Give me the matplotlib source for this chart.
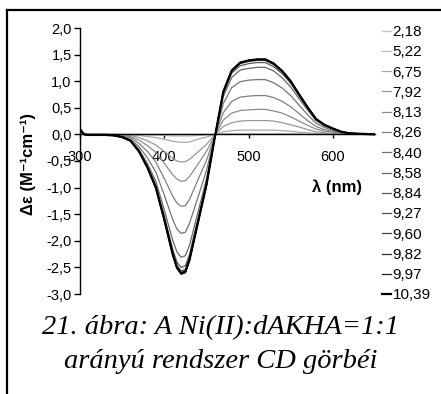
import matplotlib
matplotlib.use('Agg')
import matplotlib.pyplot as plt

plt.rcParams['font.family'] = ['Liberation Sans', 'DejaVu Sans']

wavelength = [300, 305, 310, 320, 330, 340, 350, 360, 370, 380, 390, 400, 410, 415, 420,
              425, 430, 440, 450, 460, 470, 480, 490, 500, 510, 520, 530, 540, 550, 560,
              570, 580, 590, 600, 610, 620, 635, 650]

ph_labels = ['2,18', '5,22', '6,75', '7,92', '8,13', '8,26', '8,40',
             '8,58', '8,84', '9,27', '9,60', '9,82', '9,97', '10,39']

# delta epsilon for each pH
cd_218 = [0.08, 0, 0, 0, 0, 0, 0, 0, 0, 0, 0, 0, 0, 0, 0,
          0, 0, 0, 0, 0, 0, 0, 0, 0, 0, 0, 0, 0, 0, 0,
          0, 0, 0, 0, 0, 0, 0, 0]
cd_522 = [0.08, 0, 0, 0, 0, 0, 0, 0, 0, -0.01, -0.01, -0.02, -0.03, -0.03, -0.03,
          -0.03, -0.03, -0.02, -0.01, 0, 0.01, 0.01, 0.01, 0.01, 0.01, 0.01, 0.01, 0.01, 0.01, 0.01,
          0, 0, 0, 0, 0, 0, 0, 0]
cd_675 = [0.08, 0, 0, 0, 0, 0, 0, -0.01, -0.02, -0.04, -0.06, -0.09, -0.13, -0.14, -0.15,
          -0.15, -0.14, -0.09, -0.05, 0, 0.05, 0.07, 0.08, 0.08, 0.08, 0.08, 0.08, 0.07, 0.06, 0.04,
          0.03, 0.02, 0.01, 0.01, 0, 0, 0, 0]
cd_792 = [0.08, 0, 0, 0, 0, 0, -0.01, -0.02, -0.06, -0.12, -0.20, -0.32, -0.45, -0.50, -0.52,
          -0.51, -0.47, -0.33, -0.19, -0.01, 0.15, 0.22, 0.25, 0.26, 0.26, 0.26, 0.25, 0.22, 0.18, 0.14,
          0.09, 0.05, 0.03, 0.02, 0.01, 0, 0, 0]
cd_813 = [0.08, 0, 0, 0, 0, -0.01, -0.02, -0.04, -0.11, -0.21, -0.34, -0.54, -0.76, -0.84, -0.88,
          -0.87, -0.79, -0.56, -0.32, -0.02, 0.27, 0.40, 0.45, 0.46, 0.47, 0.47, 0.44, 0.40, 0.33, 0.25,
          0.17, 0.10, 0.06, 0.04, 0.02, 0.01, 0, 0]
cd_826 = [0.08, 0, -0.01, -0.01, -0.01, -0.01, -0.03, -0.06, -0.17, -0.32, -0.52, -0.83, -1.16, -1.29, -1.35,
          -1.34, -1.22, -0.85, -0.49, -0.03, 0.41, 0.62, 0.70, 0.72, 0.73, 0.73, 0.69, 0.62, 0.52, 0.39,
          0.26, 0.15, 0.09, 0.06, 0.03, 0.01, 0.01, 0]
cd_840 = [0.08, 0, -0.01, -0.01, -0.01, -0.01, -0.04, -0.09, -0.23, -0.44, -0.71, -1.14, -1.60, -1.78, -1.86,
          -1.84, -1.67, -1.18, -0.68, -0.04, 0.58, 0.88, 0.99, 1.02, 1.03, 1.03, 0.97, 0.87, 0.73, 0.55,
          0.37, 0.21, 0.13, 0.08, 0.04, 0.01, 0.01, 0]
cd_858 = [0.08, 0, -0.01, -0.01, -0.01, -0.02, -0.04, -0.11, -0.28, -0.55, -0.88, -1.42, -1.99, -2.21, -2.31,
          -2.28, -2.08, -1.46, -0.84, -0.04, 0.71, 1.07, 1.21, 1.24, 1.26, 1.26, 1.19, 1.06, 0.89, 0.67,
          0.46, 0.26, 0.16, 0.10, 0.04, 0.02, 0.01, 0]
cd_884 = [0.08, 0, -0.01, -0.01, -0.01, -0.02, -0.05, -0.12, -0.31, -0.60, -0.96, -1.53, -2.16, -2.40, -2.50,
          -2.47, -2.25, -1.58, -0.91, -0.05, 0.77, 1.15, 1.29, 1.33, 1.35, 1.35, 1.27, 1.14, 0.96, 0.72,
          0.49, 0.28, 0.17, 0.11, 0.05, 0.02, 0.01, 0]
cd_927 = [0.08, 0, -0.01, -0.01, -0.01, -0.02, -0.05, -0.12, -0.32, -0.61, -0.98, -1.58, -2.22, -2.46, -2.57,
          -2.54, -2.31, -1.62, -0.94, -0.05, 0.79, 1.18, 1.33, 1.37, 1.39, 1.39, 1.31, 1.17, 0.99, 0.74,
          0.50, 0.29, 0.18, 0.11, 0.05, 0.02, 0.01, 0]
cd_960 = [0.08, 0, -0.01, -0.01, -0.01, -0.02, -0.05, -0.12, -0.32, -0.62, -1.00, -1.59, -2.24, -2.49, -2.60,
          -2.57, -2.34, -1.64, -0.95, -0.05, 0.79, 1.19, 1.34, 1.38, 1.40, 1.40, 1.32, 1.18, 0.99, 0.74,
          0.51, 0.29, 0.18, 0.11, 0.05, 0.02, 0.01, 0]
cd_982 = [0.08, 0, -0.01, -0.01, -0.01, -0.02, -0.05, -0.12, -0.32, -0.62, -1.00, -1.61, -2.26, -2.51, -2.62,
          -2.59, -2.36, -1.66, -0.95, -0.05, 0.80, 1.20, 1.35, 1.39, 1.41, 1.41, 1.33, 1.19, 1.00, 0.75,
          0.51, 0.29, 0.18, 0.11, 0.05, 0.02, 0.01, 0]
cd_997 = [0.08, 0, -0.01, -0.01, -0.01, -0.02, -0.05, -0.12, -0.32, -0.63, -1.01, -1.61, -2.27, -2.52, -2.63,
          -2.60, -2.37, -1.66, -0.96, -0.05, 0.80, 1.20, 1.35, 1.39, 1.41, 1.41, 1.33, 1.19, 1.00, 0.75,
          0.51, 0.29, 0.18, 0.11, 0.05, 0.02, 0.01, 0]
cd_1039 = [0.10, 0, -0.01, -0.01, -0.01, -0.02, -0.05, -0.12, -0.32, -0.62, -1.00, -1.60, -2.25, -2.50, -2.61,
           -2.58, -2.35, -1.65, -0.95, -0.05, 0.80, 1.20, 1.35, 1.39, 1.41, 1.41, 1.33, 1.19, 1.00, 0.75,
           0.51, 0.29, 0.18, 0.11, 0.05, 0.02, 0.01, 0]

curves = [cd_218, cd_522, cd_675, cd_792, cd_813, cd_826, cd_840,
          cd_858, cd_884, cd_927, cd_960, cd_982, cd_997, cd_1039]

y_ticks = [2.0, 1.5, 1.0, 0.5, 0.0, -0.5, -1.0, -1.5, -2.0, -2.5, -3.0]
y_ticklabels = ['2,0', '1,5', '1,0', '0,5', '0,0', '-0,5', '-1,0', '-1,5', '-2,0', '-2,5', '-3,0']
x_ticks = [300, 400, 500, 600]

# gray shades from light to black
grays = ['#c4c4c4', '#b8b8b8', '#a8a8a8', '#989898', '#8c8c8c', '#808080', '#747474',
         '#686868', '#5c5c5c', '#505050', '#404040', '#303030', '#202020', '#000000']

fig = plt.figure(figsize=(4.41, 3.94), dpi=100)
ax = fig.add_axes([80 / 441, 100 / 394, 295 / 441, 266 / 394])

for i, (lab, vals) in enumerate(zip(ph_labels, curves)):
    lw = 1.6 if i == len(curves) - 1 else 0.9
    ax.plot(wavelength, vals, color=grays[i], lw=lw, label=lab)

ax.set_xlim(300, 650)
ax.set_ylim(-3.0, 2.0)
ax.spines['top'].set_visible(False)
ax.spines['right'].set_visible(False)
ax.spines['bottom'].set_position(('data', 0))
ax.spines['left'].set_linewidth(1.0)
ax.spines['bottom'].set_linewidth(1.0)

ax.set_yticks(y_ticks)
ax.set_yticklabels(y_ticklabels)
ax.set_xticks(x_ticks)
ax.set_xticklabels([str(x) for x in x_ticks])
ax.tick_params(axis='y', direction='out', length=4, width=1, pad=2, labelsize=10.5)
ax.tick_params(axis='x', direction='out', length=3, width=1, pad=8, labelsize=10.5)

ax.set_ylabel('Δε (M⁻¹cm⁻¹)', fontsize=12, fontweight='bold')
ax.yaxis.set_label_coords(-0.15, 0.49)
ax.text(0.871, 0.40, 'λ (nm)', transform=ax.transAxes, fontsize=12,
        fontweight='bold', ha='center', va='center')

ax.legend(loc='upper left', bbox_to_anchor=(382 / 441, 1 - 25 / 394),
          bbox_transform=fig.transFigure, frameon=False, fontsize=11,
          handlelength=0.6, handletextpad=0.1, labelspacing=0.41,
          borderpad=0, borderaxespad=0)

# caption
fig.text(0.5, 1 - 328 / 394, '21. ábra: A Ni(II):dAKHA=1:1', ha='center', va='center',
         fontsize=20.5, style='italic', family='Liberation Serif')
fig.text(0.5, 1 - 361 / 394, 'arányú rendszer CD görbéi', ha='center', va='center',
         fontsize=20.5, style='italic', family='Liberation Serif')

# frame lines on the top and left edge
fig.add_artist(plt.Line2D([7 / 441, 1], [1 - 10 / 394, 1 - 10 / 394],
                          transform=fig.transFigure, color='black', lw=1.6))
fig.add_artist(plt.Line2D([7 / 441, 7 / 441], [0, 1 - 10 / 394],
                          transform=fig.transFigure, color='black', lw=1.6))

fig.savefig('out.png', dpi=100)
